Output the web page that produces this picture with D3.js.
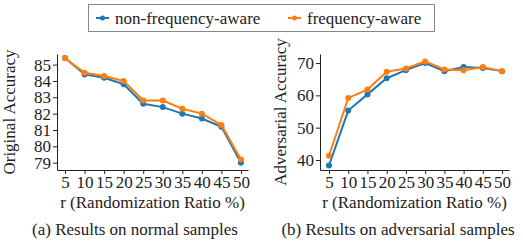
<!DOCTYPE html>
<html lang="en">
  <head>
    <meta charset="utf-8">
    <title>Randomization Ratio</title>
    <script src="https://d3js.org/d3.v7.js"></script>
  </head>
  <body style="margin:0; background:#fff">
    <script>

  // data
  var ratios = [5, 10, 15, 20, 25, 30, 35, 40, 45, 50];
  var seriesNames = ["non-frequency-aware", "frequency-aware"];
  var normalPlain = [85.4, 84.4, 84.2, 83.8, 82.6, 82.4, 82.0, 81.7, 81.2, 79.0];
  var normalFreq = [85.4, 84.5, 84.3, 84.0, 82.8, 82.8, 82.3, 82.0, 81.3, 79.2];
  var advPlain = [38.3, 55.3, 60.3, 65.3, 67.8, 70.0, 67.5, 68.8, 68.5, 67.5];
  var advFreq = [41.3, 59.2, 61.8, 67.3, 68.3, 70.5, 68.0, 67.8, 68.8, 67.5];
  var normalTicks = [79, 80, 81, 82, 83, 84, 85];
  var advTicks = [40, 50, 60, 70];

  var w = 523, h = 244;
  var colors = ["#1f77b4", "#ff7f0e"];
  var serif = "Liberation Serif";
  var ink = "#222";

  var svg = d3.select("body").append("svg")
    .attr("width", w)
    .attr("height", h)
    .style("font-family", serif);

  function label(x, y, str) {
    return svg.append("text")
      .attr("x", x)
      .attr("y", y)
      .attr("text-anchor", "middle")
      .style("font-family", serif)
      .style("font-size", "17px")
      .style("fill", ink)
      .text(str);
  }

  function styleAxis(g) {
    g.style("font-family", serif).style("font-size", "17px");
    g.selectAll("text").style("fill", ink);
    g.selectAll("line, path").style("stroke", ink);
  }

  function panel(opts) {
    var x = d3.scaleLinear().domain(opts.xDomain).range(opts.xRange);
    var y = d3.scaleLinear().domain(opts.yDomain).range([170, 54]);

    svg.append("g")
      .attr("transform", "translate(0,170)")
      .call(d3.axisBottom(x).tickValues(ratios).tickSize(4).tickSizeOuter(0).tickPadding(2))
      .call(styleAxis);

    svg.append("g")
      .attr("transform", `translate(${opts.xRange[0]},0)`)
      .call(d3.axisLeft(y).tickValues(opts.yTicks).tickSize(4).tickSizeOuter(0).tickPadding(2))
      .call(styleAxis);

    var line = d3.line()
      .x((d, i) => x(ratios[i]))
      .y(d => y(d));

    opts.series.forEach(function (vals, k) {
      svg.append("path")
        .datum(vals)
        .attr("fill", "none")
        .attr("stroke", colors[k])
        .attr("stroke-width", 2)
        .attr("d", line);
      svg.append("g").selectAll("circle")
        .data(vals)
        .enter()
        .append("circle")
        .attr("cx", (d, i) => x(ratios[i]))
        .attr("cy", d => y(d))
        .attr("r", 3)
        .attr("fill", colors[k]);
    });

    var xMid = (opts.xRange[0] + opts.xRange[1]) / 2;
    label(xMid, 208, "r (Randomization Ratio %)");
    label(opts.captionX, 235, opts.caption);
    label(0, 0, opts.yLabel)
      .attr("transform", `translate(${opts.labelX},112) rotate(-90)`);
  }

  panel({
    xDomain: [2.95, 51.8], xRange: [57, 248],
    yDomain: [78.55, 85.65], yTicks: normalTicks,
    series: [normalPlain, normalFreq],
    yLabel: "Original Accuracy", labelX: 15,
    caption: "(a) Results on normal samples", captionX: 135
  });

  panel({
    xDomain: [2.66, 51.8], xRange: [320, 509],
    yDomain: [36.9, 72.8], yTicks: advTicks,
    series: [advPlain, advFreq],
    yLabel: "Adversarial Accuracy", labelX: 286,
    caption: "(b) Results on adversarial samples", captionX: 398
  });

  // legend
  var legend = svg.append("g");
  legend.append("rect")
    .attr("x", 88.5).attr("y", 4.5)
    .attr("width", 346).attr("height", 27)
    .attr("fill", "#fff")
    .attr("stroke", "#888");
  var legendX = [96, 288];
  seriesNames.forEach(function (name, k) {
    var lx = legendX[k];
    legend.append("line")
      .attr("x1", lx).attr("x2", lx + 13)
      .attr("y1", 18).attr("y2", 18)
      .attr("stroke", colors[k]).attr("stroke-width", 2);
    legend.append("circle")
      .attr("cx", lx + 6.5).attr("cy", 18).attr("r", 2.5)
      .attr("fill", colors[k]);
    legend.append("text")
      .attr("x", lx + 19).attr("y", 23.5)
      .style("font-family", serif)
      .style("font-size", "17px")
      .style("fill", ink)
      .text(name);
  });

    </script>
  </body>
</html>
